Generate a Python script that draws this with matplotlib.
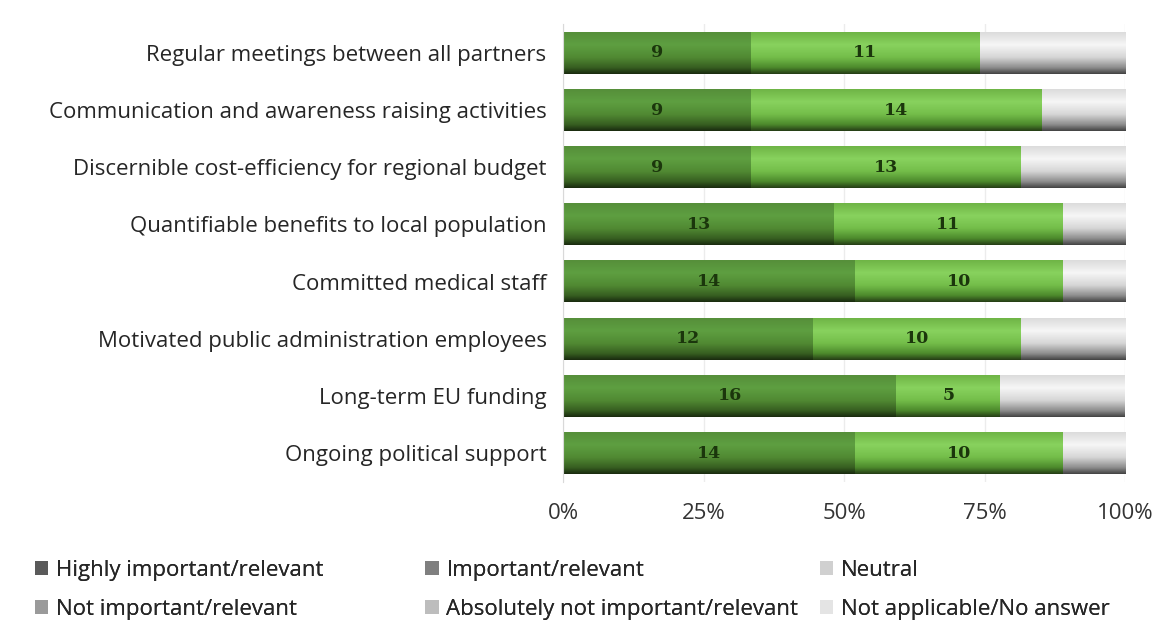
import matplotlib.pyplot as plt
import numpy as np
from matplotlib.colors import LinearSegmentedColormap
from matplotlib.patches import Patch

# survey answers per factor (27 respondents), top row first
factors = ['Regular meetings between all partners',
           'Communication and awareness raising activities',
           'Discernible cost-efficiency for regional budget',
           'Quantifiable benefits to local population',
           'Committed medical staff',
           'Motivated public administration employees',
           'Long-term EU funding',
           'Ongoing political support']
highly = [9, 9, 9, 13, 14, 12, 16, 14]
important = [11, 14, 13, 11, 10, 10, 5, 10]
neutral = [7, 4, 5, 3, 3, 5, 6, 3]
not_important = [0, 0, 0, 0, 0, 0, 0, 0]
absolutely_not = [0, 0, 0, 0, 0, 0, 0, 0]
not_applicable = [0, 0, 0, 0, 0, 0, 0, 0]

categories = ['Highly important/relevant', 'Important/relevant', 'Neutral',
              'Not important/relevant', 'Absolutely not important/relevant',
              'Not applicable/No answer']
legend_greys = ['#5a5a5a', '#7f7f7f', '#d0d0d0', '#9a9a9a', '#bdbdbd', '#e4e4e4']
xticks = [0, 0.25, 0.5, 0.75, 1.0]
xticklabels = ['0%', '25%', '50%', '75%', '100%']

# vertical shading of each segment, top -> bottom
shades = [
    ['#568f3a', '#5e9f41', '#518a33', '#375f21', '#1a2c0f'],
    ['#6fb546', '#88d25e', '#74be4a', '#4d8a2c', '#263f16'],
    ['#dcdcdc', '#f6f6f6', '#d6d6d6', '#8e8e8e', '#444444'],
    ['#bdbdbd', '#d0d0d0', '#b0b0b0', '#808080', '#404040'],
    ['#d5d5d5', '#e5e5e5', '#c8c8c8', '#8c8c8c', '#454545'],
    ['#eeeeee', '#fafafa', '#e6e6e6', '#a0a0a0', '#505050'],
]
cmaps = [LinearSegmentedColormap.from_list(f'seg{i}', list(zip([0, 0.3, 0.6, 0.85, 1.0], s)))
         for i, s in enumerate(shades)]

series = [highly, important, neutral, not_important, absolutely_not, not_applicable]
counts = np.array(series, dtype=float)
totals = counts.sum(axis=0)
shares = counts / totals

plt.rcParams['font.family'] = ['Open Sans', 'DejaVu Sans']
fs = 16
fig = plt.figure(figsize=(11.59, 6.24), dpi=100)
ax = fig.add_axes([0.486, 0.228, 0.485, 0.733])

ypos = np.arange(len(factors))
grad = np.linspace(0, 1, 64).reshape(-1, 1)
left = np.zeros(len(factors))
for k, share in enumerate(shares):
    bars = ax.barh(ypos, share, left=left, height=0.73, color='none', zorder=2)
    for b, n in zip(bars, counts[k]):
        if n == 0:
            continue
        x0, y0, w, h = b.get_x(), b.get_y(), b.get_width(), b.get_height()
        ax.imshow(grad, cmap=cmaps[k], extent=[x0, x0 + w, y0 + h, y0],
                  aspect='auto', interpolation='bilinear', zorder=2)
        if k < 2:
            ax.text(x0 + w / 2, y0 + h / 2, f'{int(n)}', ha='center', va='center',
                    fontsize=12.5, fontweight='bold', family='DejaVu Serif',
                    color='#1b360c', zorder=3)
    left += share

ax.set_xlim(0, 1)
ax.set_ylim(len(factors) - 0.5, -0.5)
ax.set_xticks(xticks)
ax.set_xticklabels(xticklabels, fontsize=fs, color='#333333')
ax.set_yticks(ypos)
ax.set_yticklabels(factors, fontsize=fs, color='#262626')
ax.tick_params(axis='both', length=0)
ax.tick_params(axis='y', pad=12)
ax.tick_params(axis='x', pad=15)
ax.xaxis.grid(True, color='#ececec', linewidth=1, zorder=0)
ax.set_axisbelow(True)
for side in ['top', 'right', 'bottom']:
    ax.spines[side].set_visible(False)
ax.spines['left'].set_color('#d9d9d9')

# legend laid out as three columns of two entries
handles = [Patch(facecolor=c, edgecolor='none') for c in legend_greys]
col_x = [0.030, 0.367, 0.7075]
for j, x in enumerate(col_x):
    leg = fig.legend([handles[j], handles[j + 3]], [categories[j], categories[j + 3]],
                     loc='center left', bbox_to_anchor=(x, 0.055), frameon=False,
                     borderpad=0, borderaxespad=0,
                     fontsize=fs, handlelength=0.6, handleheight=0.6,
                     handletextpad=0.35, labelspacing=0.8, labelcolor='#262626')
    fig.add_artist(leg)

fig.savefig('out.png', dpi=100)
